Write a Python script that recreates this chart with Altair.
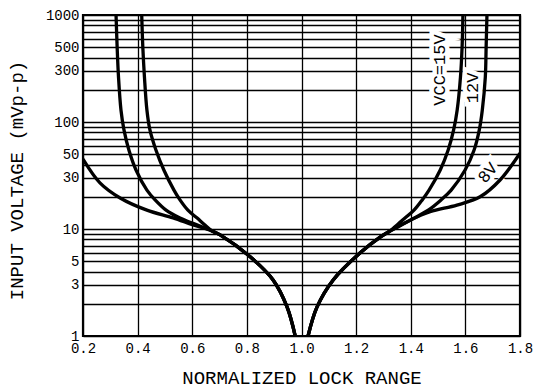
import altair as alt
import pandas as pd

# ---- curve data (normalized lock range, input voltage mVp-p) ----
v_branch = [1000, 502, 263, 129.6, 84.3, 54.7, 35.6, 23.1, 18.7, 15.0, 12.65, 11.1, 9.6]
x_left_15 = [0.415, 0.419, 0.425, 0.434, 0.445, 0.467, 0.496, 0.533, 0.555, 0.584, 0.618, 0.643, 0.672]
y_left_15 = v_branch
x_left_12 = [0.321, 0.325, 0.330, 0.339, 0.350, 0.368, 0.394, 0.434, 0.464, 0.504, 0.555, 0.610, 0.672]
y_left_12 = v_branch
x_left_8 = [0.2, 0.262, 0.336, 0.434, 0.53, 0.603, 0.672]
y_left_8 = [45, 27, 19.5, 15, 12.7, 10.9, 9.6]

x_common_left = [0.702, 0.812, 0.896, 0.947, 0.977]
y_common_left = [8.8, 5.5, 3.34, 1.87, 1.0]
x_common_right = [1.024, 1.057, 1.116, 1.215, 1.288]
y_common_right = [1.0, 1.87, 3.34, 6.0, 8.4]

x_right_15 = [1.325, 1.353, 1.379, 1.412, 1.442, 1.467, 1.508, 1.537, 1.557, 1.570, 1.582, 1.588, 1.591]
y_right_15 = v_branch[::-1]
x_right_12 = [1.325, 1.372, 1.412, 1.464, 1.511, 1.548, 1.599, 1.632, 1.651, 1.662, 1.673, 1.676, 1.679]
y_right_12 = v_branch[::-1]
x_right_8 = [1.325, 1.398, 1.471, 1.569, 1.654, 1.727, 1.8]
y_right_8 = [9.6, 12.1, 14.5, 16.7, 20, 28.7, 51]

# ---- annotations ----
label_text = ["VCC=15V", "12V", "8V"]
label_x = [1.508, 1.629, 1.683]
label_y = [306, 208, 33.4]
label_angle = [270, 270, 310]

# ---- axis ticks ----
x_grid = [round(0.2 + 0.1 * i, 1) for i in range(17)]
x_labels = [0.2, 0.4, 0.6, 0.8, 1.0, 1.2, 1.4, 1.6, 1.8]
y_grid = [m * d for d in (1, 10, 100) for m in range(1, 10)] + [1000]
y_labels = [1, 3, 5, 10, 30, 50, 100, 300, 500, 1000]

rows = []
branches = [
    ("15L", x_left_15 + x_common_left, y_left_15 + y_common_left),
    ("12L", x_left_12 + x_common_left, y_left_12 + y_common_left),
    ("8L", x_left_8 + x_common_left, y_left_8 + y_common_left),
    ("15R", x_common_right + x_right_15, y_common_right + y_right_15),
    ("12R", x_common_right + x_right_12, y_common_right + y_right_12),
    ("8R", x_common_right + x_right_8, y_common_right + y_right_8),
]
for key, xs_, ys_ in branches:
    for i, (xv, yv) in enumerate(zip(xs_, ys_)):
        rows.append({"key": key, "i": i, "x": xv, "y": yv})
df = pd.DataFrame(rows)

lab_df = pd.DataFrame({"t": label_text, "x": label_x, "y": label_y, "a": label_angle})

FONT = "Liberation Mono"

xs = alt.Scale(domain=[0.2, 1.8], nice=False, zero=False)
ys = alt.Scale(type="log", domain=[1, 1000], nice=False)

x_lab_expr = "indexof(" + str(x_labels) + ", round(datum.value*10)/10) >= 0 ? format(datum.value, '.1f') : ''"
y_lab_expr = "indexof(" + str(y_labels) + ", datum.value) >= 0 ? format(datum.value, 'd') : ''"

lines = alt.Chart(df).mark_line(color="black", strokeWidth=3.3, interpolate="catmull-rom", clip=True).encode(
    x=alt.X("x:Q", scale=xs, axis=alt.Axis(
        values=x_grid, labelExpr=x_lab_expr, title="NORMALIZED LOCK RANGE",
        ticks=False, domain=False, grid=True, gridColor="black", gridWidth=1.3, gridOpacity=1,
        labelFont=FONT, labelFontSize=14, labelColor="black", labelPadding=5,
        titleFont=FONT, titleFontSize=19, titleFontWeight="normal", titleColor="black",
        titleY=47, titleBaseline="alphabetic", labelOverlap=False, labelFlush=False)),
    y=alt.Y("y:Q", scale=ys, axis=alt.Axis(
        values=y_grid, labelExpr=y_lab_expr, title="INPUT VOLTAGE (mVp-p)",
        ticks=False, domain=False, grid=True, gridColor="black", gridWidth=1.3, gridOpacity=1,
        labelFont=FONT, labelFontSize=14, labelColor="black", labelPadding=4,
        titleFont=FONT, titleFontSize=19, titleFontWeight="normal", titleColor="black",
        titleAngle=270, titleX=-67, titleY=165, titleAlign="center", titleBaseline="middle",
        labelOverlap=False, labelFlush=False)),
    detail="key:N",
    order="i:Q",
)

halo = alt.Chart(lab_df).mark_text(font=FONT, fontSize=17, color="white", stroke="white",
                                   strokeWidth=9, align="center", baseline="middle").encode(
    x=alt.X("x:Q", scale=xs),
    y=alt.Y("y:Q", scale=ys),
    text="t:N",
    angle=alt.Angle("a:Q", scale=None),
)

texts = alt.Chart(lab_df).mark_text(font=FONT, fontSize=17, color="black", align="center", baseline="middle").encode(
    x=alt.X("x:Q", scale=xs),
    y=alt.Y("y:Q", scale=ys),
    text="t:N",
    angle=alt.Angle("a:Q", scale=None),
)

chart = alt.layer(halo, lines, texts).properties(
    width=437, height=321,
    autosize=alt.AutoSizeParams(type="none"),
    padding={"left": 83, "top": 15, "right": 22, "bottom": 52},
    background="white",
).configure_view(stroke="black", strokeWidth=2.2)

chart.save("out.html", embed_options={"renderer": "svg", "actions": False})
